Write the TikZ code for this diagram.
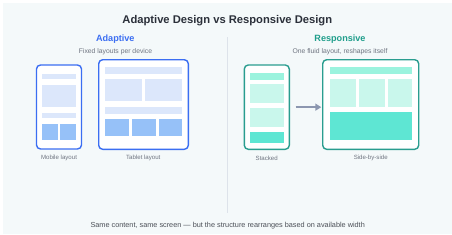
\documentclass[tikz,border=0pt]{standalone}
\usepackage{fontspec}
\setmainfont{Liberation Sans}
\usetikzlibrary{arrows.meta}
\definecolor{panel}{HTML}{F4F9FA}
\definecolor{ablue}{HTML}{3B6EF2}
\definecolor{alight}{HTML}{DCE7FB}
\definecolor{amid}{HTML}{96C1F8}
\definecolor{teal}{HTML}{2A9D8F}
\definecolor{rtext}{HTML}{1F9E8B}
\definecolor{rmint}{HTML}{9BF3DE}
\definecolor{rlight}{HTML}{C9F7EC}
\definecolor{rdark}{HTML}{5EE6D3}
\definecolor{titlec}{HTML}{2B303A}
\definecolor{greyt}{HTML}{6E7480}
\definecolor{divc}{HTML}{DDE3EA}
\definecolor{arrowc}{HTML}{8C97B0}
\tikzset{
  afr/.style={draw=ablue,line width=1.4pt,rounded corners=4pt,fill=white},
  rfr/.style={draw=teal,line width=1.4pt,rounded corners=4pt,fill=white},
  lbl/.style={font=\fontsize{6.1}{7}\selectfont,text=greyt,inner sep=0pt},
  sub/.style={font=\fontsize{6.8}{8}\selectfont,text=greyt,inner sep=0pt},
  hd/.style={font=\bfseries\fontsize{9.1}{11}\selectfont,inner sep=0pt},
}
\begin{document}
\begin{tikzpicture}[x=1pt,y=-1pt]
\useasboundingbox (0,0) rectangle (452,234);
\fill[white] (0,0) rectangle (452,234);
\fill[panel] (3,3) rectangle (452,234);
\node[font=\bfseries\fontsize{11.2}{13}\selectfont,text=titlec,inner sep=0pt] (title) at (227.3,21) {Adaptive Design vs Responsive Design};
\node[hd,text=ablue] (ah) at (115.3,39.5) {Adaptive};
\node[sub] (as) at (115.5,51.8) {Fixed layouts per device};
\node[hd,text=rtext] (rh) at (340,39.5) {Responsive};
\node[sub] (rs) at (340,51.8) {One fluid layout, reshapes itself};
\coordinate (d1) at (227.7,37);
\coordinate (d2) at (227.7,212.5);
\draw[divc,line width=0.8pt] (d1) -- (d2);
% mobile
\draw[afr] (36.5,65) rectangle (81.5,149);
\fill[alight] (42.3,74) rectangle (76,79);
\fill[alight] (42.3,85) rectangle (76,107.3);
\fill[alight] (42.3,113.3) rectangle (76,118.3);
\fill[amid] (42.3,124) rectangle (57.7,140);
\fill[amid] (60.3,124) rectangle (76,140);
\node[lbl] (ml) at (59,158.3) {Mobile layout};
% tablet
\draw[afr] (98.7,59.7) rectangle (188.3,149.3);
\fill[alight] (105.3,66.7) rectangle (181.7,74);
\fill[alight] (105.3,79) rectangle (142,100.7);
\fill[alight] (145.3,79) rectangle (181.7,100.7);
\fill[alight] (105.3,106.7) rectangle (181.7,114.3);
\fill[amid] (105.3,119) rectangle (129,135.7);
\fill[amid] (132.3,119) rectangle (156,135.7);
\fill[amid] (159.3,119) rectangle (181.7,135.7);
\node[lbl] (tl) at (143.3,158.3) {Tablet layout};
% stacked
\node[rfr,minimum width=45pt,minimum height=84.3pt,inner sep=0pt] (st) at (266.8,107.15) {};
\fill[rmint] (250,73.3) rectangle (283.7,79.7);
\fill[rlight] (250,84.3) rectangle (283.7,103.3);
\fill[rlight] (250,107.7) rectangle (283.7,126.7);
\fill[rdark] (250,131.7) rectangle (283.7,143.3);
\node[lbl] (sl) at (266.7,158.3) {Stacked};
% side by side
\node[rfr,minimum width=96pt,minimum height=89.6pt,inner sep=0pt] (sb) at (370.7,104.5) {};
\fill[rmint] (330,66.7) rectangle (411.7,74);
\fill[rlight] (330,79) rectangle (355.7,106.7);
\fill[rlight] (359,79) rectangle (385,106.7);
\fill[rlight] (388,79) rectangle (411.7,106.7);
\fill[rdark] (330,112.3) rectangle (411.7,140);
\node[lbl] (bl) at (370.7,158.3) {Side-by-side};
\draw[arrowc,line width=1.4pt,-{Triangle[length=6pt,width=7pt]}] ([xshift=5.5pt]st.east) -- ([xshift=-0.7pt]sb.west |- st.east);
\node[font=\fontsize{7.3}{9}\selectfont,text=titlec!85,inner sep=0pt] (foot) at (227.7,226) {Same content, same screen — but the structure rearranges based on available width};
\end{tikzpicture}
\end{document}
